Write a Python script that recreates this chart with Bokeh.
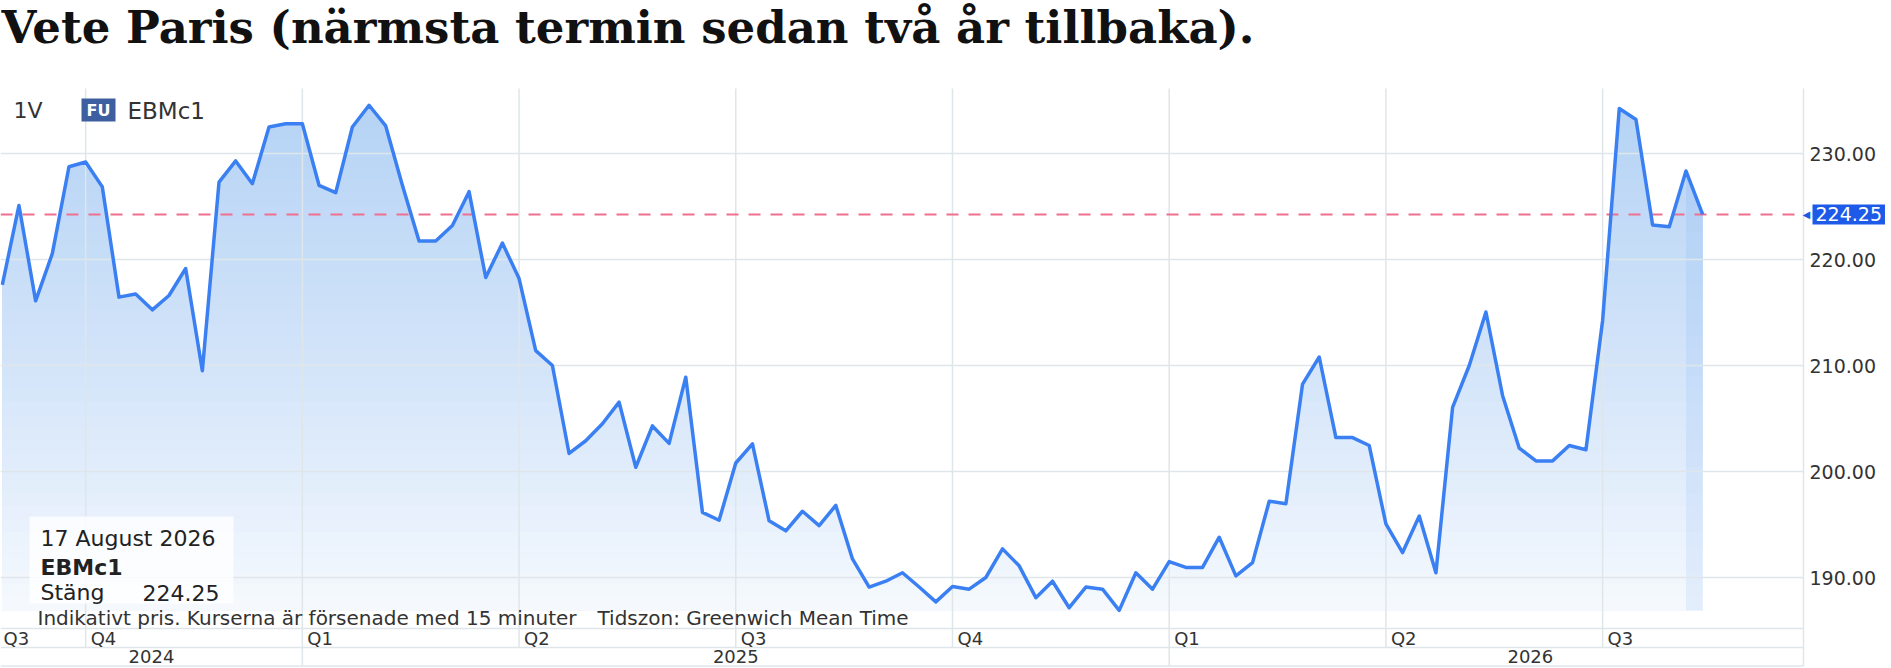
import numpy as np
import pandas as pd
from bokeh.plotting import figure
from bokeh.models import Range1d, Label, BoxAnnotation
from bokeh.core.properties import value
from bokeh.embed import file_html
from bokeh.resources import INLINE

# ---------------- data ----------------
title_text = "Vete Paris (närmsta termin sedan två år tillbaka)."
ric = "EBMc1"
interval_label = "1V"
badge_label = "FU"
info_date = "17 August 2026"
info_close_label = "Stäng"
footnote_delay = "Indikativt pris. Kurserna är försenade med 15 minuter"
footnote_tz = "Tidszon: Greenwich Mean Time"
price_ticks = [190, 200, 210, 220, 230]
first_week = "2024-09-02"
last_close = 224.25
weekly_close = [
    217.6, 225.1, 216.1, 220.55, 228.75, 229.2, 226.85, 216.45, 216.75, 215.25,
    216.6, 219.15, 209.5, 227.3, 229.3, 227.15, 232.5, 232.8, 232.8, 227.0,
    226.3, 232.5, 234.55, 232.6, 227.0, 221.75, 221.75, 223.2, 226.4, 218.3,
    221.55, 218.2, 211.4, 210.0, 201.7, 202.9, 204.5, 206.55, 200.4, 204.3,
    202.65, 208.9, 196.15, 195.4, 200.8, 202.6, 195.35, 194.4, 196.25, 194.9,
    196.8, 191.75, 189.1, 189.65, 190.45, 189.1, 187.7, 189.15, 188.9, 190.0,
    192.7, 191.1, 188.1, 189.65, 187.15, 189.1, 188.9, 186.9, 190.45, 188.9,
    191.5, 190.95, 190.95, 193.8, 190.15, 191.4, 197.2, 196.95, 208.25, 210.8,
    203.2, 203.2, 202.45, 195.05, 192.35, 195.8, 190.45, 206.05, 210.0, 215.05,
    207.15, 202.2, 201.0, 201.0, 202.45, 202.05, 214.25, 234.25, 233.2, 223.25,
    223.1, 228.35, 224.25,
]

dates = pd.date_range(first_week, periods=len(weekly_close), freq="7D")
xs = dates.values.astype("datetime64[ms]").astype("int64").astype(float)
ys = np.array(weekly_close, dtype=float)

# ---------------- layout helpers (pixel -> data) ----------------
W, H = 1891, 668
PLOT_R = 1803            # right edge of the price area
WEEK_MS = 7 * 24 * 3600 * 1000
WEEK_PX = 16.67          # horizontal spacing of one week
FIRST_PX = 1.8           # first point offset from the left edge
ms_per_px = WEEK_MS / WEEK_PX
x_start = xs[0] - FIRST_PX * ms_per_px
x_end = x_start + W * ms_per_px


def X(px):
    return x_start + px * ms_per_px


PX_PER_UNIT = 10.6
ANCHOR_V, ANCHOR_PY = 230.0, 153.0


def Y(py):
    return ANCHOR_V - (py - ANCHOR_PY) / PX_PER_UNIT


LINE_C = "#3b80f2"
GRID_C = "#dfe6e9"
TEXT_C = "#333333"
SANS = "DejaVu Sans"

p = figure(
    frame_width=W, frame_height=H,
    x_range=Range1d(x_start, x_end),
    y_range=Range1d(Y(H), Y(0)),
    x_axis_location=None, y_axis_location=None,
    toolbar_location=None, output_backend="svg", min_border=0,
)
p.outline_line_color = None
p.background_fill_color = "white"
p.border_fill_color = "white"
p.xgrid.visible = False
p.ygrid.visible = False

# ---------------- gradient area under the line ----------------
floor = Y(610)
chart_top = Y(88)
N = 40
levels = np.linspace(floor, chart_top, N + 1)
dx, dy = [xs[0]], [ys[0]]
for i in range(len(ys) - 1):
    x0, x1, y0, y1 = xs[i], xs[i + 1], ys[i], ys[i + 1]
    if y1 != y0:
        lo, hi = min(y0, y1), max(y0, y1)
        cr = levels[(levels > lo) & (levels < hi)]
        for t in np.sort((cr - y0) / (y1 - y0)):
            dx.append(x0 + t * (x1 - x0))
            dy.append(y0 + t * (y1 - y0))
    dx.append(x1)
    dy.append(y1)
dx = np.array(dx)
dy = np.array(dy)

c_bot = np.array([247, 250, 254])
c_top = np.array([180, 210, 245])
for j in range(N - 1, -1, -1):
    t = ((j + 0.5) / N) ** 0.85
    c = np.round(c_bot + (c_top - c_bot) * t).astype(int)
    col = "#%02x%02x%02x" % tuple(c)
    p.varea(x=dx, y1=np.full_like(dx, floor), y2=np.clip(dy, floor, levels[j + 1]),
            fill_color=col, level="image")

# highlighted last week column
m = dx >= xs[-2]
p.varea(x=dx[m], y1=np.full(m.sum(), floor), y2=dy[m], fill_color=LINE_C,
        fill_alpha=0.09, level="image")

# ---------------- price grid and labels ----------------
nt = len(price_ticks)
p.segment(x0=[x_start] * nt, x1=[X(PLOT_R)] * nt, y0=price_ticks, y1=price_ticks,
          line_color=GRID_C, line_width=1.5, level="underlay")
p.text(x=[X(1809)] * nt, y=price_ticks, text=["%.2f" % t for t in price_ticks],
       text_font=value(SANS), text_font_size="19px", text_color=TEXT_C,
       text_baseline="middle", text_align="left")

# ---------------- time band (quarters / years) ----------------
row1, row2, row3 = Y(628), Y(647), Y(665.5)
q_idx = [i for i in range(1, len(dates)) if dates[i].quarter != dates[i - 1].quarter]
y_idx = [i for i in q_idx if dates[i].year != dates[i - 1].year]

p.segment(x0=xs[q_idx], y0=[chart_top] * len(q_idx), x1=xs[q_idx], y1=[row2] * len(q_idx),
          line_color=GRID_C, line_width=1.5, level="underlay")
p.segment(x0=xs[y_idx], y0=[row2] * len(y_idx), x1=xs[y_idx], y1=[row3] * len(y_idx),
          line_color=GRID_C, line_width=1.5, level="underlay")
p.segment(x0=[X(PLOT_R)], y0=[chart_top], x1=[X(PLOT_R)], y1=[row3],
          line_color=GRID_C, line_width=1.5, level="underlay")
p.segment(x0=[x_start] * 3, x1=[X(PLOT_R)] * 3, y0=[row1, row2, row3], y1=[row1, row2, row3],
          line_color=GRID_C, line_width=1.5, level="underlay")

q_y = Y(637.5)
p.add_layout(Label(x=x_start, y=q_y, x_offset=3, text="Q%d" % dates[0].quarter,
                   text_font=SANS, text_font_size="18px", text_color=TEXT_C,
                   text_baseline="middle"))
for i in q_idx:
    p.add_layout(Label(x=xs[i], y=q_y, x_offset=5, text="Q%d" % dates[i].quarter,
                       text_font=SANS, text_font_size="18px", text_color=TEXT_C,
                       text_baseline="middle"))

bounds = [x_start] + [xs[i] for i in y_idx] + [x_end]
years = [dates[0].year] + [dates[i].year for i in y_idx]
for k, yr in enumerate(years):
    p.add_layout(Label(x=(bounds[k] + bounds[k + 1]) / 2, y=Y(656), text=str(yr),
                       text_font=SANS, text_font_size="18px", text_color=TEXT_C,
                       text_align="center", text_baseline="middle"))

# ---------------- series ----------------
p.segment(x0=[x_start], x1=[X(1797)], y0=[last_close], y1=[last_close],
          line_color="#ef6f8e", line_width=2, line_dash="12 10")
p.line(x=dates, y=ys, line_color=LINE_C, line_width=3.5, line_join="round")

p.add_layout(Label(x=X(1802), y=last_close, text="\u25C0", text_font=SANS,
                   text_font_size="10px", text_color="#1d5ae8", text_baseline="middle"))
p.add_layout(Label(x=X(1812), y=last_close, text="%.2f" % last_close,
                   text_font=SANS, text_font_size="19px", text_color="white",
                   text_baseline="middle", background_fill_color="#1d5ae8", padding=3))

# ---------------- title & header ----------------
p.add_layout(Label(x=X(1), y=Y(27), text=title_text, text_font="DejaVu Serif",
                   text_font_style="bold", text_font_size="45px", text_color="#111111",
                   text_baseline="middle"))
p.add_layout(Label(x=X(13), y=Y(110), text=interval_label, text_font=SANS,
                   text_font_size="22px", text_color=TEXT_C, text_baseline="middle"))
p.add_layout(BoxAnnotation(left=X(81), right=X(115), top=Y(98), bottom=Y(121),
                           fill_color="#3d5e9f", fill_alpha=1.0, line_color=None))
p.add_layout(Label(x=X(98), y=Y(109.5), text=badge_label, text_font=SANS,
                   text_font_style="bold", text_font_size="16px", text_color="white",
                   text_align="center", text_baseline="middle"))
p.add_layout(Label(x=X(127), y=Y(110), text=ric, text_font=SANS,
                   text_font_size="23px", text_color=TEXT_C, text_baseline="middle"))

# ---------------- info box & footnote ----------------
p.add_layout(BoxAnnotation(left=X(29), right=X(233), top=Y(516), bottom=Y(603),
                           fill_color="white", fill_alpha=0.8, line_color=None))
p.add_layout(Label(x=X(40), y=Y(538), text=info_date, text_font=SANS,
                   text_font_size="22px", text_color="#222222", text_baseline="middle"))
p.add_layout(Label(x=X(40), y=Y(567), text=ric, text_font=SANS, text_font_style="bold",
                   text_font_size="22px", text_color="#222222", text_baseline="middle"))
p.add_layout(Label(x=X(40), y=Y(592), text=info_close_label, text_font=SANS,
                   text_font_size="22px", text_color="#222222", text_baseline="middle"))
p.add_layout(Label(x=X(142), y=Y(592), text="%.2f" % last_close, text_font=SANS,
                   text_font_size="22px", text_color="#222222", text_baseline="middle"))
p.add_layout(Label(x=X(37), y=Y(617), text=footnote_delay, text_font=SANS,
                   text_font_size="20px", text_color=TEXT_C, text_baseline="middle"))
p.add_layout(Label(x=X(597), y=Y(617), text=footnote_tz, text_font=SANS,
                   text_font_size="20px", text_color=TEXT_C, text_baseline="middle"))

open("out.html", "w").write(file_html(p, INLINE))
